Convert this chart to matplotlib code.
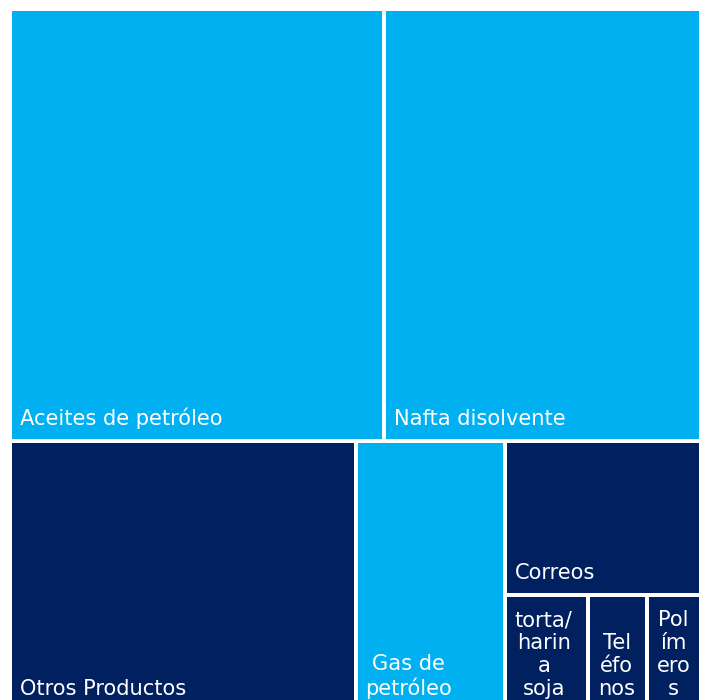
import matplotlib
matplotlib.use("Agg")
import matplotlib.pyplot as plt
from matplotlib.patches import Rectangle

labels = ["Aceites de petróleo", "Nafta disolvente", "Otros Productos", "Gas de petróleo",
          "Correos", "torta/harina soja", "Teléfonos", "Polímeros"]
display = ["Aceites de petróleo", "Nafta disolvente", "Otros Productos", "Gas de\npetróleo",
           "Correos", "torta/\nharin\na\nsoja", "Tel\néfo\nnos", "Pol\ním\nero\ns"]
values = [33.3, 28.3, 19.2, 8.3, 6.2, 2.0, 1.4, 1.3]
LIGHT = "#00B0F0"
DARK = "#002060"
colors = [LIGHT, LIGHT, DARK, LIGHT, DARK, DARK, DARK, DARK]

W, H, DPI = 707, 700, 100
fig = plt.figure(figsize=(W / DPI, H / DPI), dpi=DPI)
L, R, T, B = 10, 701, 9, 711
ax = fig.add_axes([L / W, (H - B) / H, (R - L) / W, (B - T) / H])
ax.set_xlim(0, 1)
ax.set_ylim(1, 0)
ax.axis("off")

def split(vals, x, y, w, h, horizontal):
    s = sum(vals)
    rects = []
    pos = 0.0
    for v in vals:
        f = v / s
        if horizontal:
            rects.append((x + pos * w, y, f * w, h))
        else:
            rects.append((x, y + pos * h, w, f * h))
        pos += f
    return rects

# two bands: top band (first two), bottom band (rest)
top_band, bottom_band = split([sum(values[:2]), sum(values[2:])], 0, 0, 1, 1, False)
rects = split(values[:2], *top_band, True)
b_parts = split([values[2], values[3], sum(values[4:])], *bottom_band, True)
rects += b_parts[:2]
col = split([values[4], sum(values[5:])], *b_parts[2], False)
rects.append(col[0])
rects += split(values[5:], *col[1], True)

FS = 21 * 72 / DPI
for (x, y, w, h), c, lab in zip(rects, colors, display):
    ax.add_patch(Rectangle((x, y), w, h, facecolor=c, edgecolor="white", linewidth=4 * 72 / DPI))
    ax.annotate(lab, xy=(x, y + h), xytext=(10, 12), textcoords="offset pixels",
                ha="left", va="bottom", multialignment="center", color="white",
                fontsize=FS, family="DejaVu Sans", linespacing=1.18)

fig.savefig("out.png", dpi=DPI)
